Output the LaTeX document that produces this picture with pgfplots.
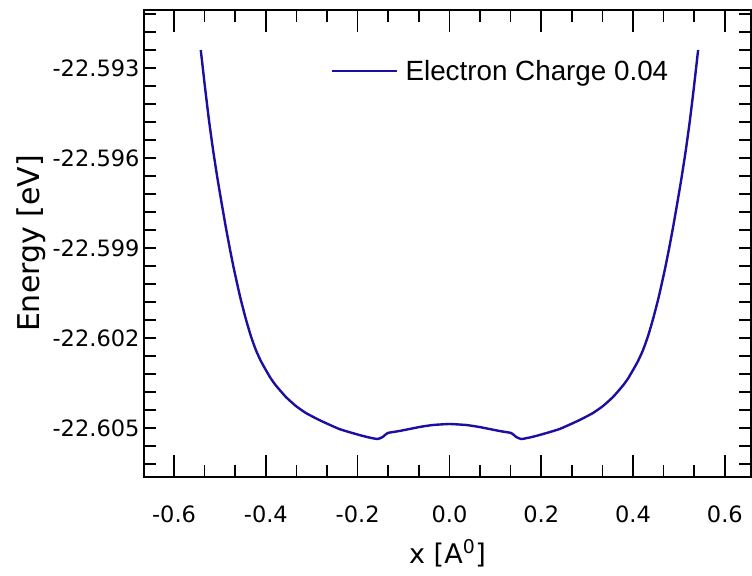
\documentclass[border=0pt]{standalone}
\usepackage{fontspec}
\setmainfont{DejaVu Sans}
\newfontfamily\legendfont{Liberation Sans}
\usepackage{pgfplots}
\usepackage{pgfplotstable}
\pgfplotsset{compat=1.18}
\definecolor{curve}{RGB}{28,14,160}

% x [Angstrom], E = (Energy + 22.6 eV) * 1000
\pgfplotstableread{
x E
-0.5418 7.600
-0.5324 6.333
-0.5237 5.233
-0.5150 4.267
-0.5056 3.333
-0.4964 2.500
-0.4873 1.700
-0.4779 0.933
-0.4691 0.267
-0.4560 -0.633
-0.4436 -1.367
-0.4327 -1.933
-0.4218 -2.400
-0.4109 -2.767
-0.4000 -3.067
-0.3891 -3.350
-0.3781 -3.583
-0.3563 -3.967
-0.3345 -4.267
-0.3127 -4.500
-0.2837 -4.733
-0.2400 -5.033
-0.1964 -5.233
-0.1746 -5.317
-0.1565 -5.367
-0.1455 -5.300
-0.1346 -5.167
-0.1091 -5.100
-0.0655 -4.967
-0.0364 -4.900
0.0000 -4.867
0.0364 -4.900
0.0655 -4.967
0.1091 -5.100
0.1346 -5.167
0.1455 -5.300
0.1565 -5.367
0.1746 -5.317
0.1964 -5.233
0.2400 -5.033
0.2837 -4.733
0.3127 -4.500
0.3345 -4.267
0.3563 -3.967
0.3781 -3.583
0.3891 -3.350
0.4000 -3.067
0.4109 -2.767
0.4218 -2.400
0.4327 -1.933
0.4436 -1.367
0.4560 -0.633
0.4691 0.267
0.4779 0.933
0.4873 1.700
0.4964 2.500
0.5056 3.333
0.5150 4.267
0.5237 5.233
0.5324 6.333
0.5418 7.600
}\datatable

\begin{document}
\begin{tikzpicture}
\begin{axis}[
  scale only axis, width=607pt, height=467pt,
  xmin=-0.6655, xmax=0.657,
  ymin=-6.633, ymax=8.933,
  axis line style={line width=1.8pt},
  tick style={line width=1.6pt, black},
  major tick length=22pt, minor tick length=12pt,
  xtick={-0.6,-0.4,-0.2,0,0.2,0.4,0.6},
  xticklabels={-0.6,-0.4,-0.2,0.0,0.2,0.4,0.6},
  minor x tick num=2,
  ytick={-5,-2,1,4,7},
  yticklabels={-22.605,-22.602,-22.599,-22.596,-22.593},
  ytick style={/pgfplots/major tick length=12pt},
  minor ytick={-6.2,-5.6,-5.0,-4.4,-3.8,-3.2,-2.6,-2.0,-1.4,-0.8,-0.2,0.4,1.0,1.6,2.2,2.8,3.4,4.0,4.6,5.2,5.8,6.4,7.0,7.6,8.2,8.8},
  extra y ticks={-4.4,-1.4,1.6,4.6,7.6},
  extra y tick labels={},
  extra y tick style={grid=none, /pgfplots/major tick length=22pt},
  ticklabel style={font=\fontsize{22.5}{25}\selectfont, black},
  xticklabel style={yshift=-25pt},
  yticklabel style={xshift=-1pt},
  every axis x label/.style={at={(rel axis cs:0.5,0)}, yshift=-86pt, anchor=base, font=\fontsize{27}{30}\selectfont},
  every axis y label/.style={at={(rel axis cs:0,0.5)}, xshift=-104pt, rotate=90, anchor=base, font=\fontsize{30}{33}\selectfont},
  xlabel={x [A\textsuperscript{0}]},
  ylabel={Energy [eV]},
  legend style={draw=none, fill=none, at={(rel axis cs:0.308,0.870)}, anchor=west, inner sep=0pt, font=\fontsize{27.8}{30}\selectfont\legendfont},
  legend cell align=left,
  legend image code/.code={\draw[#1] (0pt,0pt) -- (65pt,0pt); \path (70pt,0pt);},
]
\addplot[curve, line width=2.4pt, smooth, tension=0.3] table[x=x, y=E] {\datatable};
\addlegendentry{Electron Charge 0.04}
\coordinate (bl) at (rel axis cs:0,0);
\coordinate (tr) at (rel axis cs:1,1);
\end{axis}
\pgfresetboundingbox
\path[use as bounding box] ([shift={(-144pt,-98pt)}]bl) rectangle ([shift={(1pt,10pt)}]tr);
\end{tikzpicture}
\end{document}
